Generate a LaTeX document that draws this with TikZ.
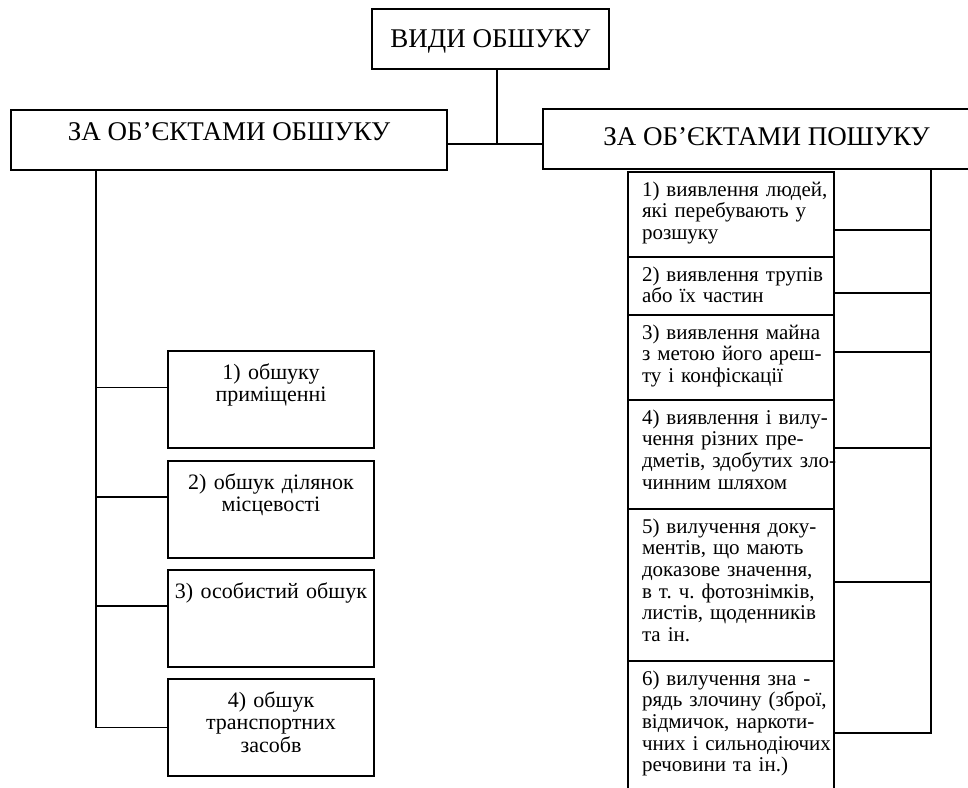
\documentclass[tikz,border=0pt]{standalone}
\usepackage{fontspec}
\setmainfont{Liberation Serif}
\usetikzlibrary{positioning}
\frenchspacing

\tikzset{
  box/.style={draw, line width=1.2pt, outer sep=0pt, inner sep=0pt},
  link/.style={line width=1.2pt},
  headbox/.style={box, font=\fontsize{27}{32}\selectfont},
  leftbox/.style={box, text width=206pt, align=center, text height=28pt, text depth=69pt,
    font=\fontsize{22}{22.5}\selectfont},
  rightbox/.style={box, text width=206pt, align=left, text height=24pt, text depth=#1,
    font=\fontsize{21}{21.7}\selectfont,
    execute at begin node={\leftskip=14pt\rightskip=-8pt plus 1fil}},
}

\begin{document}
\begin{tikzpicture}[x=1pt, y=-1pt]
	\clip (0,0) rectangle (968,787);

	% headers
	\node[headbox, minimum width=237pt, text height=38pt, text depth=22pt, anchor=north west] (vydy) at (372,9) {ВИДИ ОБШУКУ};
	\node[headbox, minimum width=436pt, text height=30pt, text depth=30pt, anchor=north west] (obshuk) at (11,110) {ЗА ОБ’ЄКТАМИ ОБШУКУ};
	\node[headbox, minimum width=447pt, text height=36pt, text depth=24pt, anchor=north west] (poshuk) at (543,109) {ЗА ОБ’ЄКТАМИ ПОШУКУ};

	% left column
	\node[leftbox, anchor=north west] (l1) at (168,351) {1) обшуку\\ приміщенні};
	\node[leftbox, below=13pt of l1] (l2) {2) обшук ділянок\\ місцевості};
	\node[leftbox, below=12pt of l2] (l3) {3) особистий обшук};
	\node[leftbox, below=12pt of l3] (l4) {4) обшук\\ транспортних\\ засобв};

	% right column
	\node[rightbox=61pt, anchor=north west] (r1) at (628,172) {1) виявлення людей,\\ які перебувають у\\ розшуку};
	\node[rightbox=34pt, below=0pt of r1] (r2) {2) виявлення трупів\\ або їх частин};
	\node[rightbox=61pt, below=0pt of r2] (r3) {3) виявлення майна\\ з метою його ареш-\\ ту і конфіскації};
	\node[rightbox=85pt, below=0pt of r3] (r4) {4) виявлення і вилу-\\ чення різних пре-\\ дметів, здобутих зло-\\ чинним шляхом};
	\node[rightbox=128pt, below=0pt of r4] (r5) {5) вилучення доку-\\ ментів, що мають\\ доказове значення,\\ в т. ч. фотознімків,\\ листів, щоденників\\ та ін.};
	\node[rightbox=120pt, below=0pt of r5] (r6) {6) вилучення зна -\\ рядь злочину (зброї,\\ відмичок, наркоти-\\ чних і сильнодіючих\\ речовини та ін.)};

	% bus lines
	\coordinate (hub) at (497,144);
	\coordinate (lbus) at (96,0);
	\coordinate (rbus) at (931,0);
	\draw[link] (vydy.south -| hub) -- (hub);
	\draw[link] (obshuk.east |- hub) -- (poshuk.west |- hub);
	\draw[link] (obshuk.south -| lbus) -- (l4.west -| lbus) -- (l4.west);
	\draw[link] (poshuk.south -| rbus) -- (r6.east -| rbus) -- (r6.east);

	% left branches
	\draw[link] ([yshift=12pt]l1.west) -- ([yshift=12pt]l1.west -| lbus);
	\draw[link] ([yshift=12.5pt]l2.west) -- ([yshift=12.5pt]l2.west -| lbus);
	\draw[link] ([yshift=12.5pt]l3.west) -- ([yshift=12.5pt]l3.west -| lbus);

	% right branches
	\draw[link] ([yshift=-15.5pt]r1.east) -- ([yshift=-15.5pt]r1.east -| rbus);
	\draw[link] ([yshift=-7pt]r2.east) -- ([yshift=-7pt]r2.east -| rbus);
	\draw[link] ([yshift=5.5pt]r3.east) -- ([yshift=5.5pt]r3.east -| rbus);
	\draw[link] ([yshift=6.5pt]r4.east) -- ([yshift=6.5pt]r4.east -| rbus);
	\draw[link] ([yshift=3pt]r5.east) -- ([yshift=3pt]r5.east -| rbus);
\end{tikzpicture}
\end{document}
